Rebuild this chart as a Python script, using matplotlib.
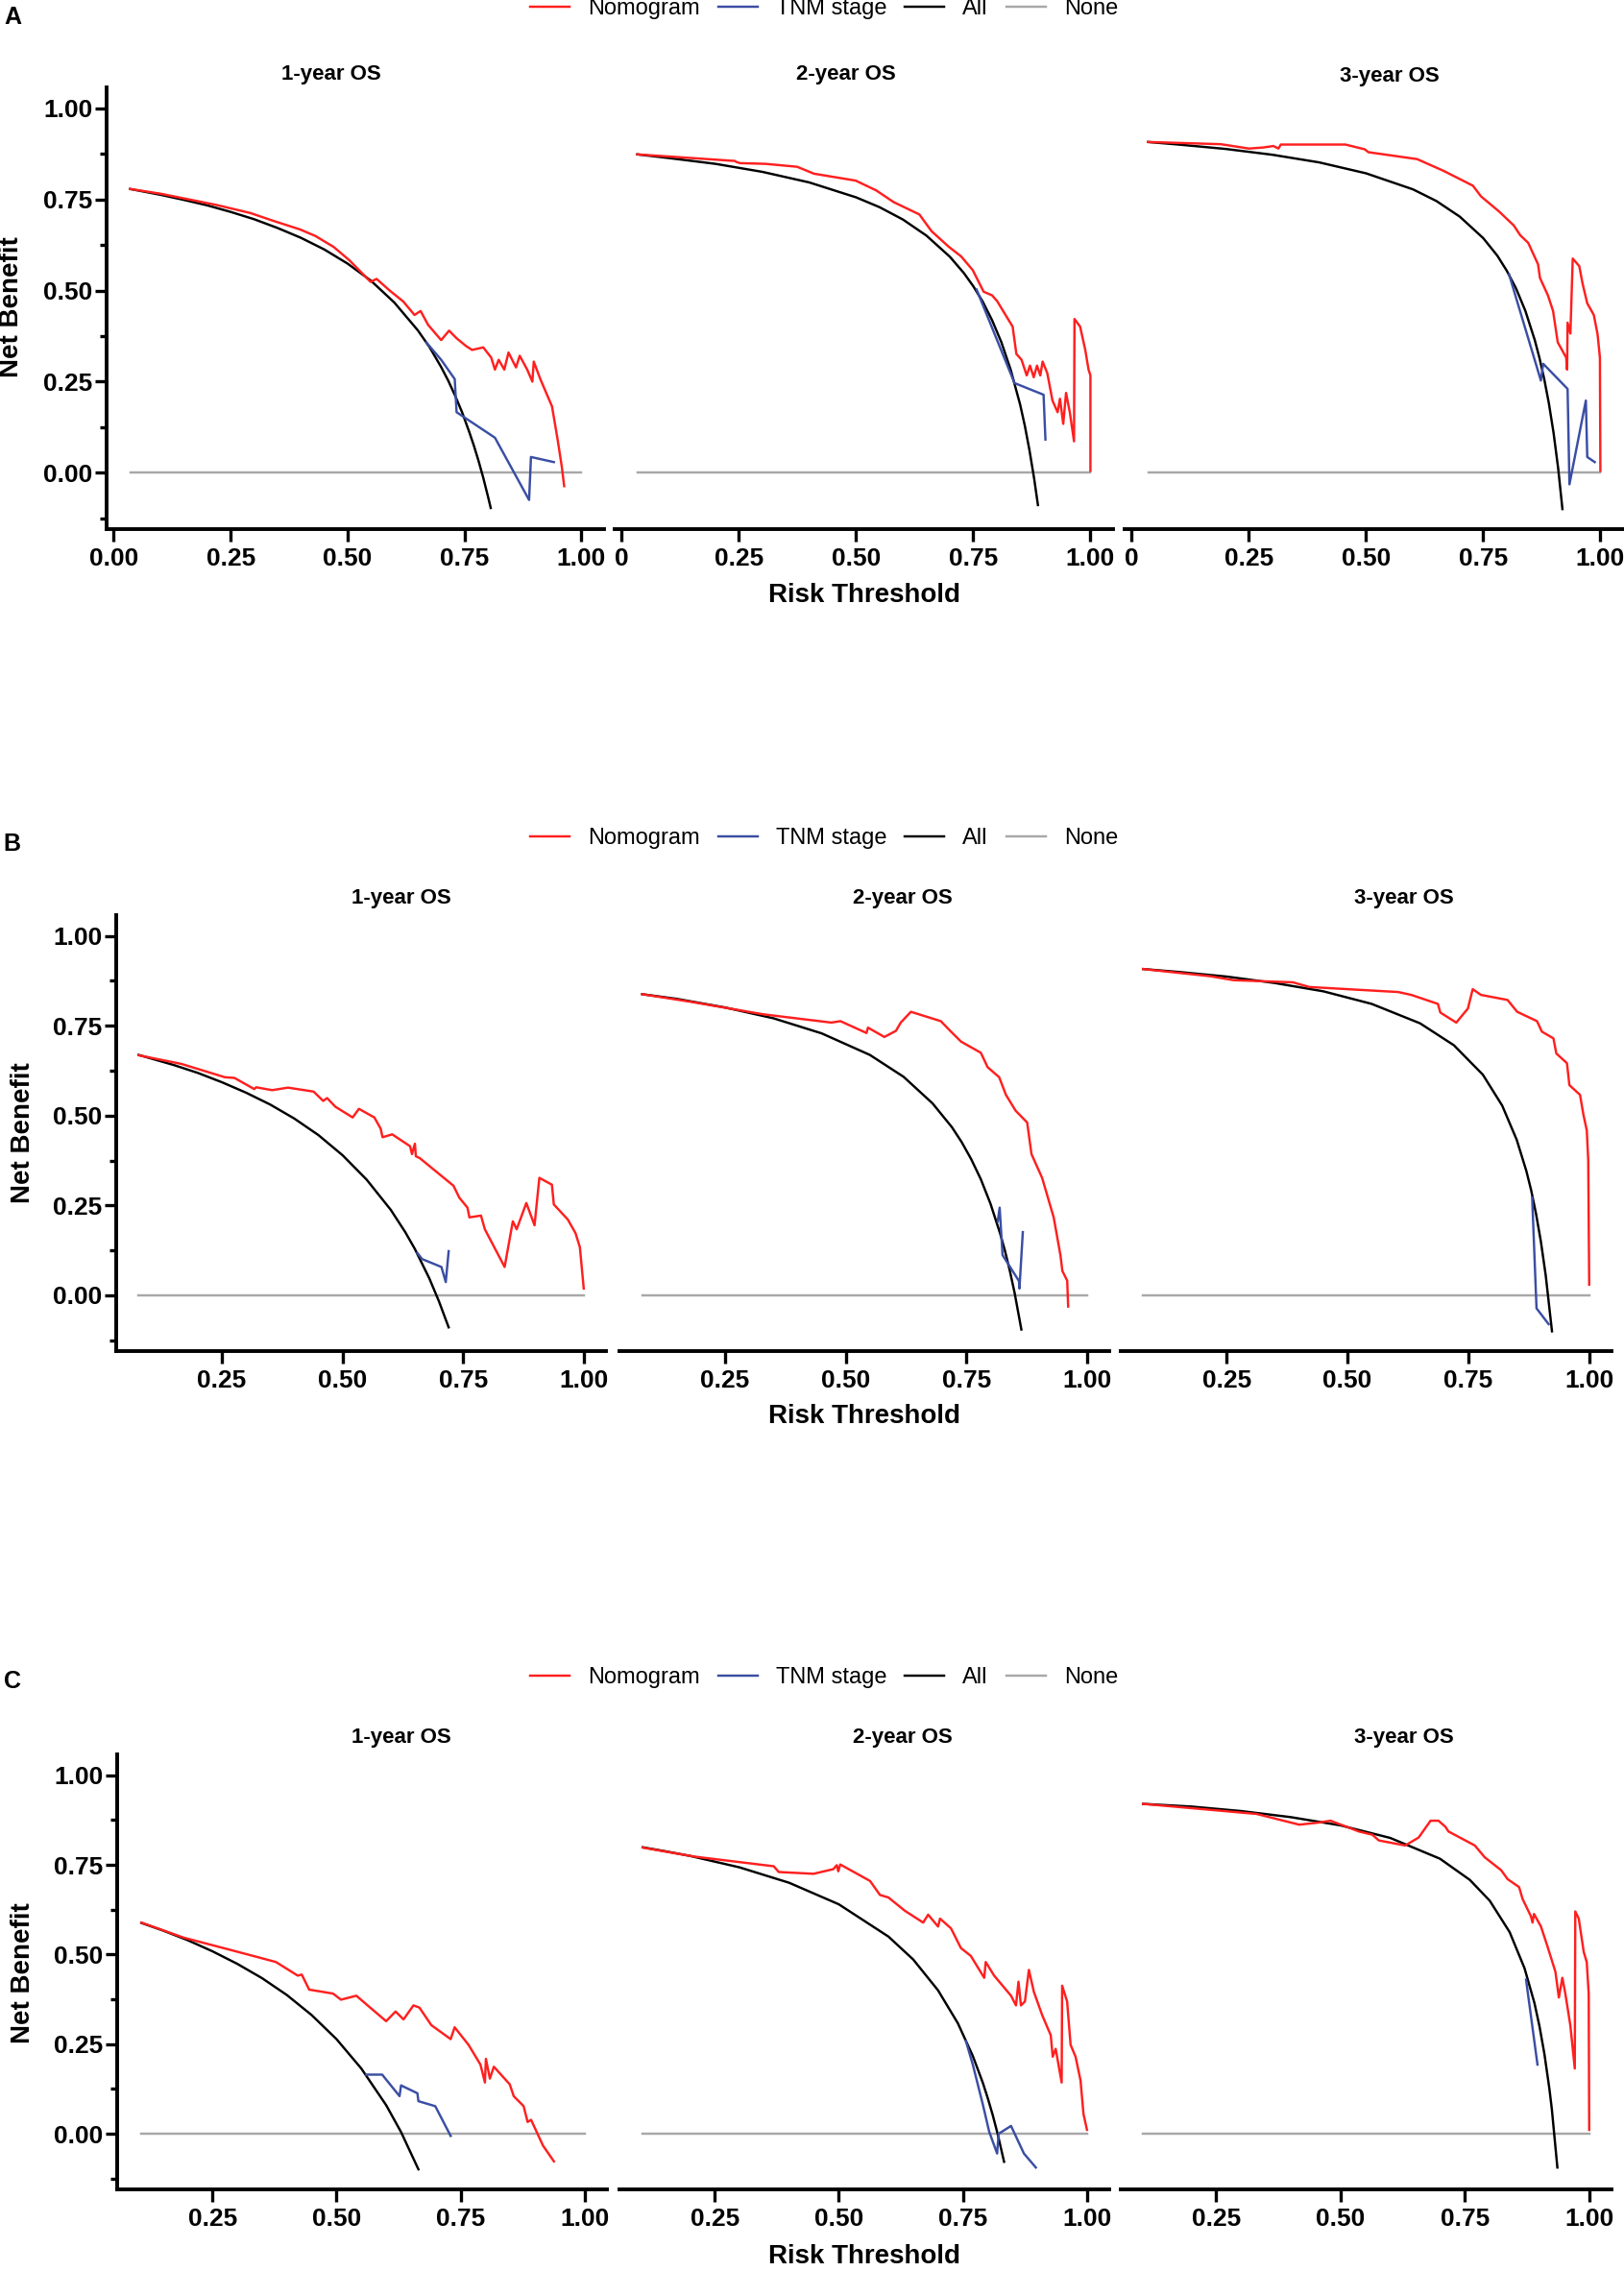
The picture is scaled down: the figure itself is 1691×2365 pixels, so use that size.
import matplotlib

matplotlib.use("Agg")
import matplotlib.pyplot as plt
from matplotlib.lines import Line2D
from matplotlib.ticker import FixedLocator

plt.rcParams["font.family"] = ["Liberation Sans", "DejaVu Sans"]

# ---------------- data ----------------
# panel A
a1_all_x = [0.035, 0.10, 0.15, 0.20, 0.25, 0.30, 0.35, 0.40, 0.45, 0.50, 0.55, 0.60, 0.65, 0.675,
            0.70, 0.715, 0.73, 0.745, 0.76, 0.77, 0.78, 0.79, 0.80, 0.806]
a1_all_y = [0.779, 0.763, 0.749, 0.734, 0.716, 0.696, 0.672, 0.645, 0.613, 0.574, 0.527, 0.467, 0.391, 0.345,
            0.290, 0.253, 0.211, 0.165, 0.112, 0.074, 0.032, -0.014, -0.065, -0.097]
a1_nomo_x = [0.035, 0.10, 0.166, 0.22, 0.292, 0.34, 0.398, 0.431, 0.47, 0.504, 0.549, 0.562, 0.590, 0.619,
             0.643, 0.656, 0.672, 0.700, 0.717, 0.733, 0.753, 0.766, 0.790, 0.807, 0.815, 0.823, 0.835, 0.844,
             0.860, 0.868, 0.884, 0.895, 0.898, 0.912, 0.937, 0.949, 0.958, 0.963]
a1_nomo_y = [0.779, 0.766, 0.749, 0.735, 0.713, 0.692, 0.668, 0.650, 0.620, 0.583, 0.524, 0.532, 0.500, 0.470,
             0.433, 0.444, 0.406, 0.364, 0.390, 0.369, 0.348, 0.337, 0.344, 0.316, 0.283, 0.310, 0.283, 0.330,
             0.289, 0.321, 0.283, 0.250, 0.305, 0.257, 0.182, 0.091, 0.016, -0.037]
a1_tnm_x = [0.668, 0.700, 0.729, 0.733, 0.815, 0.888, 0.892, 0.941]
a1_tnm_y = [0.358, 0.310, 0.257, 0.166, 0.096, -0.075, 0.043, 0.029]

a2_all_x = [0.033, 0.10, 0.20, 0.30, 0.40, 0.50, 0.55, 0.60, 0.65, 0.70, 0.73, 0.75, 0.77, 0.79, 0.81, 0.83,
            0.85, 0.86, 0.87, 0.88, 0.888]
a2_all_y = [0.874, 0.864, 0.848, 0.826, 0.797, 0.756, 0.729, 0.695, 0.651, 0.593, 0.548, 0.512, 0.470, 0.419,
            0.358, 0.282, 0.187, 0.129, 0.061, -0.017, -0.089]
a2_nomo_x = [0.033, 0.160, 0.241, 0.245, 0.252, 0.307, 0.374, 0.410, 0.499, 0.543, 0.580, 0.635, 0.661, 0.698,
             0.724, 0.749, 0.772, 0.790, 0.801, 0.816, 0.834, 0.842, 0.853, 0.864, 0.871, 0.879, 0.886, 0.893,
             0.898, 0.908, 0.919, 0.930, 0.935, 0.942, 0.948, 0.956, 0.965, 0.966, 0.978, 0.989, 0.996, 1.0, 1.0]
a2_nomo_y = [0.874, 0.863, 0.856, 0.853, 0.850, 0.848, 0.840, 0.821, 0.802, 0.775, 0.743, 0.709, 0.663, 0.620,
             0.594, 0.556, 0.497, 0.487, 0.471, 0.439, 0.401, 0.326, 0.310, 0.267, 0.294, 0.262, 0.294, 0.267,
             0.305, 0.273, 0.198, 0.166, 0.203, 0.134, 0.219, 0.166, 0.086, 0.422, 0.401, 0.337, 0.283, 0.267,
             0.005]
a2_tnm_x = [0.757, 0.838, 0.900, 0.904]
a2_tnm_y = [0.503, 0.246, 0.214, 0.091]

a3_all_x = [0.035, 0.10, 0.20, 0.30, 0.40, 0.50, 0.60, 0.65, 0.70, 0.75, 0.78, 0.80, 0.82, 0.84, 0.86, 0.87,
            0.88, 0.89, 0.90, 0.91, 0.919]
a3_all_y = [0.908, 0.901, 0.889, 0.873, 0.852, 0.822, 0.778, 0.746, 0.703, 0.644, 0.596, 0.555, 0.506, 0.444,
            0.364, 0.315, 0.258, 0.191, 0.110, 0.011, -0.100]
a3_nomo_x = [0.035, 0.19, 0.25, 0.281, 0.302, 0.313, 0.318, 0.456, 0.497, 0.505, 0.609, 0.665, 0.728, 0.745,
             0.784, 0.815, 0.829, 0.846, 0.867, 0.871, 0.888, 0.899, 0.909, 0.927, 0.929, 0.930, 0.936, 0.941,
             0.955, 0.962, 0.972, 0.986, 0.994, 0.999, 1.0]
a3_nomo_y = [0.908, 0.902, 0.890, 0.893, 0.897, 0.890, 0.901, 0.901, 0.888, 0.880, 0.861, 0.829, 0.788, 0.759,
             0.717, 0.679, 0.652, 0.631, 0.572, 0.535, 0.487, 0.444, 0.358, 0.316, 0.283, 0.412, 0.382, 0.588,
             0.567, 0.519, 0.465, 0.433, 0.380, 0.316, 0.005]
a3_tnm_x = [0.805, 0.873, 0.878, 0.930, 0.934, 0.969, 0.972, 0.988]
a3_tnm_y = [0.545, 0.253, 0.299, 0.230, -0.032, 0.198, 0.043, 0.029]

# panel B
b1_all_x = [0.0775, 0.15, 0.20, 0.25, 0.30, 0.35, 0.40, 0.45, 0.50, 0.55, 0.60, 0.63, 0.65, 0.68, 0.70, 0.72]
b1_all_y = [0.669, 0.641, 0.619, 0.593, 0.564, 0.531, 0.492, 0.446, 0.390, 0.322, 0.238, 0.176, 0.129, 0.047,
            -0.017, -0.089]
b1_nomo_x = [0.0775, 0.166, 0.256, 0.276, 0.317, 0.321, 0.354, 0.387, 0.44, 0.46, 0.468, 0.485, 0.521, 0.534,
             0.566, 0.579, 0.583, 0.603, 0.64, 0.644, 0.65, 0.652, 0.66, 0.73, 0.742, 0.759, 0.763, 0.787, 0.795,
             0.836, 0.853, 0.861, 0.881, 0.898, 0.908, 0.934, 0.938, 0.967, 0.983, 0.992, 1.0]
b1_nomo_y = [0.668, 0.644, 0.607, 0.605, 0.574, 0.579, 0.571, 0.578, 0.567, 0.541, 0.549, 0.525, 0.495, 0.519,
             0.495, 0.464, 0.440, 0.448, 0.415, 0.393, 0.422, 0.387, 0.382, 0.305, 0.272, 0.244, 0.217, 0.222,
             0.184, 0.079, 0.206, 0.184, 0.257, 0.195, 0.327, 0.308, 0.253, 0.211, 0.173, 0.134, 0.019]
b1_tnm_x = [0.655, 0.665, 0.705, 0.714, 0.72]
b1_tnm_y = [0.118, 0.101, 0.079, 0.037, 0.123]

b2_all_x = [0.078, 0.15, 0.25, 0.35, 0.45, 0.55, 0.62, 0.68, 0.72, 0.74, 0.76, 0.78, 0.80, 0.82, 0.83, 0.84,
            0.85, 0.864]
b2_all_y = [0.838, 0.825, 0.801, 0.771, 0.729, 0.669, 0.608, 0.534, 0.468, 0.427, 0.379, 0.323, 0.255, 0.172,
            0.124, 0.069, 0.007, -0.095]
b2_nomo_x = [0.078, 0.178, 0.329, 0.47, 0.489, 0.543, 0.546, 0.58, 0.604, 0.614, 0.635, 0.697, 0.718, 0.739,
             0.78, 0.794, 0.818, 0.832, 0.852, 0.876, 0.885, 0.907, 0.931, 0.945, 0.949, 0.959, 0.961]
b2_nomo_y = [0.838, 0.817, 0.782, 0.759, 0.763, 0.730, 0.745, 0.719, 0.736, 0.759, 0.789, 0.763, 0.734, 0.706,
             0.675, 0.635, 0.607, 0.558, 0.514, 0.481, 0.393, 0.327, 0.217, 0.112, 0.068, 0.041, -0.031]
b2_tnm_x = [0.815, 0.819, 0.825, 0.859, 0.860, 0.867]
b2_tnm_y = [0.206, 0.244, 0.112, 0.040, 0.019, 0.176]

b3_all_x = [0.077, 0.15, 0.25, 0.35, 0.45, 0.55, 0.65, 0.72, 0.78, 0.82, 0.85, 0.87, 0.88, 0.89, 0.90, 0.91,
            0.923]
b3_all_y = [0.908, 0.900, 0.887, 0.869, 0.846, 0.811, 0.757, 0.696, 0.614, 0.528, 0.433, 0.346, 0.292, 0.227,
            0.150, 0.056, -0.100]
b3_nomo_x = [0.077, 0.216, 0.264, 0.387, 0.421, 0.605, 0.632, 0.687, 0.692, 0.725, 0.749, 0.759, 0.776, 0.831,
             0.851, 0.892, 0.902, 0.926, 0.932, 0.954, 0.959, 0.981, 0.988, 0.995, 0.998, 1.0]
b3_nomo_y = [0.908, 0.888, 0.877, 0.871, 0.858, 0.844, 0.836, 0.811, 0.787, 0.759, 0.798, 0.852, 0.836, 0.822,
             0.789, 0.763, 0.734, 0.715, 0.673, 0.646, 0.585, 0.558, 0.503, 0.459, 0.376, 0.030]
b3_tnm_x = [0.882, 0.891, 0.916]
b3_tnm_y = [0.272, -0.036, -0.080]

# panel C
c1_all_x = [0.107, 0.15, 0.2, 0.25, 0.3, 0.35, 0.4, 0.45, 0.5, 0.55, 0.6, 0.63, 0.665]
c1_all_y = [0.588, 0.567, 0.540, 0.509, 0.474, 0.434, 0.387, 0.331, 0.264, 0.182, 0.080, 0.005, -0.099]
c1_nomo_x = [0.107, 0.192, 0.283, 0.343, 0.378, 0.422, 0.43, 0.445, 0.493, 0.509, 0.54, 0.572, 0.60, 0.619,
             0.635, 0.655, 0.667, 0.691, 0.73, 0.738, 0.766, 0.79, 0.799, 0.801, 0.809, 0.817, 0.849, 0.857,
             0.877, 0.885, 0.892, 0.916, 0.938]
c1_nomo_y = [0.589, 0.547, 0.514, 0.492, 0.479, 0.441, 0.444, 0.402, 0.391, 0.374, 0.385, 0.347, 0.314, 0.341,
             0.319, 0.358, 0.352, 0.303, 0.264, 0.297, 0.248, 0.193, 0.143, 0.209, 0.154, 0.187, 0.138, 0.105,
             0.077, 0.033, 0.039, -0.033, -0.077]
c1_tnm_x = [0.56, 0.592, 0.627, 0.63, 0.663, 0.665, 0.699, 0.73]
c1_tnm_y = [0.165, 0.165, 0.105, 0.135, 0.113, 0.091, 0.077, -0.006]

c2_all_x = [0.105, 0.15, 0.2, 0.3, 0.4, 0.5, 0.6, 0.65, 0.7, 0.74, 0.77, 0.79, 0.8, 0.81, 0.82, 0.833]
c2_all_y = [0.799, 0.788, 0.775, 0.743, 0.700, 0.640, 0.550, 0.486, 0.400, 0.308, 0.217, 0.143, 0.100, 0.053,
            0.0, -0.078]
c2_nomo_x = [0.105, 0.209, 0.369, 0.379, 0.449, 0.489, 0.496, 0.499, 0.503, 0.563, 0.583, 0.6, 0.633, 0.67,
             0.68, 0.7, 0.704, 0.726, 0.746, 0.766, 0.793, 0.796, 0.813, 0.83, 0.847, 0.857, 0.862, 0.867, 0.875,
             0.883, 0.893, 0.91, 0.927, 0.931, 0.937, 0.949, 0.95, 0.96, 0.967, 0.977, 0.987, 0.993, 1.0]
c2_nomo_y = [0.798, 0.773, 0.746, 0.730, 0.725, 0.738, 0.749, 0.732, 0.751, 0.705, 0.666, 0.659, 0.622, 0.589,
             0.611, 0.578, 0.600, 0.573, 0.518, 0.496, 0.435, 0.479, 0.441, 0.413, 0.385, 0.358, 0.424, 0.358,
             0.369, 0.457, 0.396, 0.330, 0.275, 0.215, 0.237, 0.143, 0.413, 0.369, 0.248, 0.215, 0.149, 0.055,
             0.011]
c2_tnm_x = [0.756, 0.77, 0.79, 0.803, 0.819, 0.822, 0.847, 0.873, 0.897]
c2_tnm_y = [0.259, 0.193, 0.083, 0.006, -0.055, 0.0, 0.022, -0.055, -0.094]

c3_all_x = [0.103, 0.2, 0.3, 0.4, 0.5, 0.6, 0.7, 0.76, 0.8, 0.84, 0.87, 0.89, 0.90, 0.91, 0.92, 0.925, 0.936]
c3_all_y = [0.920, 0.9125, 0.900, 0.883, 0.860, 0.825, 0.767, 0.708, 0.650, 0.5625, 0.4615, 0.364, 0.300,
            0.222, 0.125, 0.067, -0.094]
c3_nomo_x = [0.103, 0.331, 0.417, 0.457, 0.48, 0.537, 0.564, 0.577, 0.63, 0.657, 0.681, 0.697, 0.711, 0.717,
             0.77, 0.79, 0.823, 0.836, 0.859, 0.866, 0.883, 0.886, 0.889, 0.903, 0.916, 0.932, 0.939, 0.946,
             0.952, 0.962, 0.971, 0.972, 0.979, 0.989, 0.995, 0.999, 1.0]
c3_nomo_y = [0.920, 0.892, 0.862, 0.868, 0.873, 0.843, 0.834, 0.818, 0.804, 0.826, 0.873, 0.873, 0.856, 0.843,
             0.804, 0.771, 0.735, 0.710, 0.688, 0.655, 0.606, 0.589, 0.613, 0.578, 0.523, 0.452, 0.380, 0.435,
             0.391, 0.303, 0.182, 0.620, 0.600, 0.507, 0.479, 0.391, 0.011]
c3_tnm_x = [0.873, 0.896]
c3_tnm_y = [0.430, 0.193]

titles = ["1-year OS", "2-year OS", "3-year OS"]
legend_labels = ["Nomogram", "TNM stage", "All", "None"]
y_ticks = [0.0, 0.25, 0.5, 0.75, 1.0]

# ---------------- layout (pixel positions of the 1691x2365 canvas) ----------------
W, H = 1691, 2365
RED, BLUE, BLACK, GRAY = "#ff1f1f", "#3a4ea3", "black", "#a8a8a8"
LW = 1.75


def fx(px):
    return px / W


def fy(py):
    return 1 - py / H


panels = [
    dict(letter="A", letter_xy=(13, 18), legend_y=9,
         cols=[(111, 629), (640, 1159), (1171, 1690)], top=91, bottom=551,
         title_xy=[(345, 78), (881, 78), (1447, 80)], xlab_y=620, ylab_xy=(12, 320),
         xticks=[0.0, 0.25, 0.5, 0.75, 1.0],
         series=[(a1_nomo_x, a1_nomo_y, a1_tnm_x, a1_tnm_y, a1_all_x, a1_all_y),
                 (a2_nomo_x, a2_nomo_y, a2_tnm_x, a2_tnm_y, a2_all_x, a2_all_y),
                 (a3_nomo_x, a3_nomo_y, a3_tnm_x, a3_tnm_y, a3_all_x, a3_all_y)]),
    dict(letter="B", letter_xy=(12, 879), legend_y=873,
         cols=[(121, 631), (645, 1155), (1167, 1678)], top=953, bottom=1407,
         title_xy=[(418, 935), (940, 935), (1462, 935)], xlab_y=1475, ylab_xy=(24, 1180),
         xticks=[0.25, 0.5, 0.75, 1.0],
         series=[(b1_nomo_x, b1_nomo_y, b1_tnm_x, b1_tnm_y, b1_all_x, b1_all_y),
                 (b2_nomo_x, b2_nomo_y, b2_tnm_x, b2_tnm_y, b2_all_x, b2_all_y),
                 (b3_nomo_x, b3_nomo_y, b3_tnm_x, b3_tnm_y, b3_all_x, b3_all_y)]),
    dict(letter="C", letter_xy=(13, 1751), legend_y=1747,
         cols=[(122, 632), (645, 1155), (1167, 1678)], top=1827, bottom=2280,
         title_xy=[(418, 1810), (940, 1810), (1462, 1810)], xlab_y=2350, ylab_xy=(24, 2055),
         xticks=[0.25, 0.5, 0.75, 1.0],
         series=[(c1_nomo_x, c1_nomo_y, c1_tnm_x, c1_tnm_y, c1_all_x, c1_all_y),
                 (c2_nomo_x, c2_nomo_y, c2_tnm_x, c2_tnm_y, c2_all_x, c2_all_y),
                 (c3_nomo_x, c3_nomo_y, c3_tnm_x, c3_tnm_y, c3_all_x, c3_all_y)]),
]

fig = plt.figure(figsize=(W / 100, H / 100), dpi=100)

for p in panels:
    x_start = min(s[4][0] for s in p["series"])
    pad = 0.05 * (1 - x_start)
    for i, ((left, right), ser) in enumerate(zip(p["cols"], p["series"])):
        nx, ny, tx, ty, ax_, ay = ser
        ax = fig.add_axes([fx(left), fy(p["bottom"]), (right - left) / W, (p["bottom"] - p["top"]) / H])
        ax.plot(nx, ny, color=RED, lw=LW, zorder=4)
        ax.plot(tx, ty, color=BLUE, lw=LW, zorder=3)
        ax.plot(ax_, ay, color=BLACK, lw=LW, zorder=2)
        ax.plot([ax_[0], 1.0], [0, 0], color=GRAY, lw=LW, zorder=1)

        ax.set_xlim(x_start - pad, 1 + pad)
        ax.set_ylim(-0.155, 1.058)
        for s in ("top", "right"):
            ax.spines[s].set_visible(False)
        ax.spines["bottom"].set_linewidth(2.8)
        ax.set_xticks(p["xticks"])
        if p["letter"] == "A" and i > 0:
            ax.set_xticklabels(["0" if t == 0 else f"{t:.2f}" for t in p["xticks"]])
        else:
            ax.set_xticklabels([f"{t:.2f}" for t in p["xticks"]])
        ax.tick_params(axis="x", length=9, width=2.4, pad=5, labelsize=19)
        for lab in ax.get_xticklabels():
            lab.set_fontweight("bold")

        if i == 0:
            ax.spines["left"].set_linewidth(2.8)
            ax.set_yticks(y_ticks)
            ax.set_yticklabels([f"{t:.2f}" for t in y_ticks])
            ax.yaxis.set_minor_locator(FixedLocator([-0.125, 0.125, 0.375, 0.625, 0.875]))
            ax.tick_params(axis="y", which="major", length=9, width=2.4, pad=1.5, labelsize=19)
            ax.tick_params(axis="y", which="minor", length=5, width=2.4)
            for lab in ax.get_yticklabels():
                lab.set_fontweight("bold")
        else:
            ax.spines["left"].set_visible(False)
            ax.set_yticks([])
        ax.patch.set_alpha(0)

        tx_, ty_ = p["title_xy"][i]
        fig.text(fx(tx_), fy(ty_), titles[i], ha="center", va="center", fontsize=16, fontweight="bold")

    fig.text(fx(p["letter_xy"][0]), fy(p["letter_xy"][1]), p["letter"], ha="center", va="center",
             fontsize=18, fontweight="bold")
    fig.text(fx(900), fy(p["xlab_y"]), "Risk Threshold", ha="center", va="center", fontsize=20,
             fontweight="bold")
    fig.text(fx(p["ylab_xy"][0]), fy(p["ylab_xy"][1]), "Net Benefit", ha="center", va="center",
             rotation=90, fontsize=20, fontweight="bold")

    handles = [Line2D([], [], color=c, lw=LW) for c in (RED, BLUE, BLACK, GRAY)]
    fig.legend(handles, legend_labels, loc="center", bbox_to_anchor=(fx(858), fy(p["legend_y"])),
               ncol=4, frameon=False, fontsize=17, handlelength=1.75, handletextpad=0.8,
               columnspacing=0.8, borderpad=0, borderaxespad=0)

fig.savefig("out.png", dpi=100)
